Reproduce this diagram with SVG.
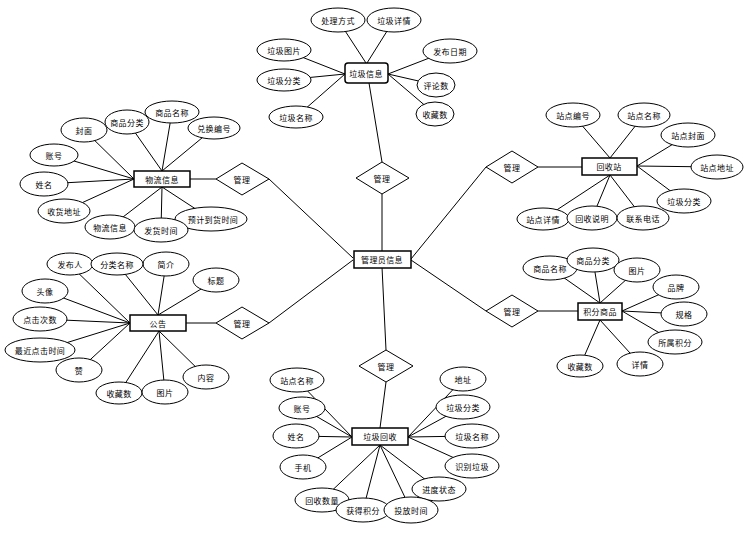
<svg xmlns="http://www.w3.org/2000/svg" width="755" height="542" viewBox="0 0 755 542">
<style>
.c line{stroke:#000;stroke-width:1}
.e ellipse{fill:#fff;stroke:#000;stroke-width:1}
.ent{fill:#fff;stroke:#000;stroke-width:1.5}
.rel{fill:#fff;stroke:#000;stroke-width:1}
text{font-family:"Noto Sans CJK SC","Liberation Sans",sans-serif;font-size:8px;letter-spacing:0.4px;text-anchor:middle;dominant-baseline:central;fill:#000}
</style>
<rect width="755" height="542" fill="#fff"/>
<g id="connectors" class="c">
<line x1="382" y1="251" x2="382" y2="194"/>
<line x1="369" y1="83" x2="382" y2="162"/>
<line x1="353" y1="258" x2="269" y2="179"/>
<line x1="353" y1="260" x2="269" y2="323"/>
<line x1="411" y1="259" x2="486" y2="167"/>
<line x1="411" y1="260" x2="486" y2="311"/>
<line x1="382" y1="267" x2="386" y2="350"/>
<line x1="386" y1="382" x2="380" y2="428"/>
<line x1="190" y1="179" x2="216" y2="179"/>
<line x1="186" y1="323" x2="216" y2="323"/>
<line x1="538" y1="167" x2="582" y2="167"/>
<line x1="538" y1="311" x2="578" y2="311"/>
<line x1="338" y1="20" x2="366" y2="63"/>
<line x1="394" y1="20" x2="367" y2="63"/>
<line x1="284" y1="50" x2="345" y2="74"/>
<line x1="284" y1="80" x2="345" y2="74"/>
<line x1="296" y1="117" x2="345" y2="74"/>
<line x1="450" y1="50" x2="388" y2="74"/>
<line x1="436" y1="85" x2="388" y2="74"/>
<line x1="435" y1="114" x2="388" y2="74"/>
<line x1="84" y1="130" x2="134" y2="179"/>
<line x1="54" y1="155" x2="134" y2="179"/>
<line x1="44" y1="184" x2="134" y2="179"/>
<line x1="64" y1="211" x2="134" y2="179"/>
<line x1="127" y1="121" x2="162" y2="171"/>
<line x1="172" y1="112" x2="162" y2="171"/>
<line x1="214" y1="128" x2="162" y2="171"/>
<line x1="110" y1="227" x2="162" y2="187"/>
<line x1="161" y1="230" x2="162" y2="187"/>
<line x1="211" y1="219" x2="162" y2="187"/>
<line x1="70" y1="265" x2="130" y2="323"/>
<line x1="45" y1="291" x2="130" y2="323"/>
<line x1="40" y1="319" x2="130" y2="323"/>
<line x1="40" y1="351" x2="130" y2="323"/>
<line x1="79" y1="370" x2="130" y2="323"/>
<line x1="117" y1="264" x2="158" y2="315"/>
<line x1="166" y1="264" x2="158" y2="315"/>
<line x1="216" y1="280" x2="158" y2="315"/>
<line x1="119" y1="393" x2="159" y2="331"/>
<line x1="165" y1="392" x2="159" y2="331"/>
<line x1="206" y1="377" x2="159" y2="331"/>
<line x1="573" y1="115" x2="610" y2="158"/>
<line x1="644" y1="115" x2="610" y2="158"/>
<line x1="688" y1="135" x2="637" y2="166"/>
<line x1="717" y1="167" x2="637" y2="166"/>
<line x1="684" y1="201" x2="637" y2="166"/>
<line x1="543" y1="219" x2="610" y2="175"/>
<line x1="592" y1="218" x2="610" y2="175"/>
<line x1="643" y1="218" x2="610" y2="175"/>
<line x1="550" y1="268" x2="600" y2="303"/>
<line x1="593" y1="260" x2="600" y2="303"/>
<line x1="637" y1="270" x2="600" y2="303"/>
<line x1="676" y1="287" x2="622" y2="311"/>
<line x1="684" y1="314" x2="622" y2="311"/>
<line x1="675" y1="342" x2="622" y2="311"/>
<line x1="640" y1="364" x2="600" y2="320"/>
<line x1="580" y1="366" x2="600" y2="320"/>
<line x1="297" y1="380" x2="352" y2="437"/>
<line x1="302" y1="408" x2="352" y2="437"/>
<line x1="296" y1="436" x2="352" y2="437"/>
<line x1="303" y1="467" x2="352" y2="437"/>
<line x1="322" y1="500" x2="380" y2="445"/>
<line x1="363" y1="510" x2="380" y2="445"/>
<line x1="411" y1="510" x2="380" y2="445"/>
<line x1="439" y1="490" x2="380" y2="445"/>
<line x1="463" y1="379" x2="408" y2="437"/>
<line x1="463" y1="407" x2="408" y2="437"/>
<line x1="472" y1="436" x2="408" y2="437"/>
<line x1="472" y1="466" x2="408" y2="437"/>
</g>

<g id="rel-top"><polygon class="rel" points="356,178 382,162 409,178 382,194"/><text x="382" y="178">管理</text></g>
<g id="rel-left1"><polygon class="rel" points="216,179 242,163 269,179 242,195"/><text x="242" y="179">管理</text></g>
<g id="rel-left2"><polygon class="rel" points="216,323 242,307 269,323 242,339"/><text x="242" y="323">管理</text></g>
<g id="rel-right1"><polygon class="rel" points="486,167 512,151 538,167 512,183"/><text x="512" y="167">管理</text></g>
<g id="rel-right2"><polygon class="rel" points="486,311 512,295 538,311 512,327"/><text x="512" y="311">管理</text></g>
<g id="rel-bottom"><polygon class="rel" points="359,366 386,350 413,366 386,382"/><text x="386" y="366">管理</text></g>

<g id="admin"><rect class="ent" x="354" y="251" width="57" height="17"/><text x="382" y="259.5">管理员信息</text></g>
<g id="rubbish-info"><rect class="ent" x="345" y="63" width="43" height="20" rx="3"/><text x="366" y="73">垃圾信息</text></g>
<g id="logistics"><rect class="ent" x="134" y="171" width="56" height="16"/><text x="162" y="179">物流信息</text></g>
<g id="notice"><rect class="ent" x="130" y="315" width="56" height="16"/><text x="158" y="323">公告</text></g>
<g id="station"><rect class="ent" x="582" y="158" width="55" height="17"/><text x="609" y="166.5">回收站</text></g>
<g id="goods"><rect class="ent" x="578" y="303" width="44" height="17"/><text x="600" y="311.5">积分商品</text></g>
<g id="recycle"><rect class="ent" x="352" y="428" width="56" height="17"/><text x="380" y="436.5">垃圾回收</text></g>

<g id="attrs-rubbish-info" class="e">
<g id="a-cl"><ellipse cx="338" cy="20" rx="27" ry="12"/><text x="338" y="20">处理方式</text></g>
<g id="a-xq"><ellipse cx="394" cy="20" rx="27" ry="12"/><text x="394" y="20">垃圾详情</text></g>
<g id="a-tp"><ellipse cx="284" cy="50" rx="27" ry="11"/><text x="284" y="50">垃圾图片</text></g>
<g id="a-fl"><ellipse cx="284" cy="80" rx="27" ry="11"/><text x="284" y="80">垃圾分类</text></g>
<g id="a-mc"><ellipse cx="296" cy="117" rx="27" ry="11"/><text x="296" y="117">垃圾名称</text></g>
<g id="a-rq"><ellipse cx="450" cy="51" rx="27" ry="12"/><text x="450" y="51">发布日期</text></g>
<g id="a-pl"><ellipse cx="436" cy="85" rx="19" ry="12"/><text x="436" y="85">评论数</text></g>
<g id="a-sc"><ellipse cx="435" cy="114" rx="19" ry="12"/><text x="435" y="114">收藏数</text></g>
</g>

<g id="attrs-logistics" class="e">
<g id="b-fm"><ellipse cx="84" cy="130" rx="23" ry="12"/><text x="84" y="130">封面</text></g>
<g id="b-fl"><ellipse cx="127" cy="122" rx="22" ry="12"/><text x="127" y="122">商品分类</text></g>
<g id="b-mc"><ellipse cx="172" cy="112" rx="27" ry="11"/><text x="172" y="112">商品名称</text></g>
<g id="b-dh"><ellipse cx="214" cy="128" rx="26" ry="11"/><text x="214" y="128">兑换编号</text></g>
<g id="b-zh"><ellipse cx="54" cy="155" rx="24" ry="11"/><text x="54" y="155">账号</text></g>
<g id="b-xm"><ellipse cx="44" cy="184" rx="24" ry="12"/><text x="44" y="184">姓名</text></g>
<g id="b-dz"><ellipse cx="64" cy="211" rx="26" ry="12"/><text x="64" y="211">收货地址</text></g>
<g id="b-wl"><ellipse cx="110" cy="227" rx="25" ry="12"/><text x="110" y="227">物流信息</text></g>
<g id="b-yj"><ellipse cx="211" cy="219" rx="36" ry="12"/><text x="213" y="219">预计到货时间</text></g>
<g id="b-fh"><ellipse cx="161" cy="230" rx="27" ry="12"/><text x="161" y="230">发货时间</text></g>
</g>

<g id="attrs-notice" class="e">
<g id="c-fb"><ellipse cx="70" cy="264" rx="23" ry="11"/><text x="70" y="264">发布人</text></g>
<g id="c-jj"><ellipse cx="166" cy="264" rx="23" ry="12"/><text x="166" y="264">简介</text></g>
<g id="c-fl"><ellipse cx="117" cy="264" rx="26" ry="11"/><text x="117" y="264">分类名称</text></g>
<g id="c-bt"><ellipse cx="216" cy="280" rx="23" ry="12"/><text x="216" y="280">标题</text></g>
<g id="c-tx"><ellipse cx="45" cy="291" rx="23" ry="12"/><text x="45" y="291">头像</text></g>
<g id="c-dj"><ellipse cx="40" cy="319" rx="27" ry="12"/><text x="40" y="319">点击次数</text></g>
<g id="c-zan"><ellipse cx="79" cy="370" rx="23" ry="12"/><text x="79" y="370">赞</text></g>
<g id="c-zj"><ellipse cx="40" cy="350" rx="35" ry="12"/><text x="40" y="350">最近点击时间</text></g>
<g id="c-sc"><ellipse cx="119" cy="393" rx="23" ry="11"/><text x="119" y="393">收藏数</text></g>
<g id="c-tp"><ellipse cx="165" cy="392" rx="23" ry="12"/><text x="165" y="392">图片</text></g>
<g id="c-nr"><ellipse cx="206" cy="377" rx="23" ry="12"/><text x="206" y="377">内容</text></g>
</g>

<g id="attrs-station" class="e">
<g id="d-bh"><ellipse cx="573" cy="115" rx="27" ry="12"/><text x="573" y="115">站点编号</text></g>
<g id="d-mc"><ellipse cx="644" cy="115" rx="26" ry="12"/><text x="644" y="115">站点名称</text></g>
<g id="d-fm"><ellipse cx="688" cy="135" rx="27" ry="12"/><text x="688" y="135">站点封面</text></g>
<g id="d-dz"><ellipse cx="717" cy="167" rx="26" ry="12"/><text x="717" y="167">站点地址</text></g>
<g id="d-fl"><ellipse cx="684" cy="201" rx="27" ry="12"/><text x="684" y="201">垃圾分类</text></g>
<g id="d-xq"><ellipse cx="543" cy="219" rx="26" ry="11"/><text x="543" y="219">站点详情</text></g>
<g id="d-sm"><ellipse cx="592" cy="218" rx="25" ry="12"/><text x="592" y="218">回收说明</text></g>
<g id="d-dh"><ellipse cx="643" cy="218" rx="26" ry="12"/><text x="643" y="218">联系电话</text></g>
</g>

<g id="attrs-goods" class="e">
<g id="e-mc"><ellipse cx="550" cy="268" rx="27" ry="12"/><text x="550" y="268">商品名称</text></g>
<g id="e-fl"><ellipse cx="593" cy="260" rx="26" ry="12"/><text x="593" y="260">商品分类</text></g>
<g id="e-tp"><ellipse cx="637" cy="270" rx="23" ry="12"/><text x="637" y="270">图片</text></g>
<g id="e-pp"><ellipse cx="676" cy="287" rx="23" ry="12"/><text x="676" y="287">品牌</text></g>
<g id="e-gg"><ellipse cx="684" cy="314" rx="23" ry="12"/><text x="684" y="314">规格</text></g>
<g id="e-jf"><ellipse cx="675" cy="342" rx="27" ry="12"/><text x="675" y="342">所属积分</text></g>
<g id="e-xq"><ellipse cx="640" cy="364" rx="23" ry="12"/><text x="640" y="364">详情</text></g>
<g id="e-sc"><ellipse cx="580" cy="366" rx="23" ry="11"/><text x="580" y="366">收藏数</text></g>
</g>

<g id="attrs-recycle" class="e">
<g id="f-zd"><ellipse cx="297" cy="380" rx="27" ry="12"/><text x="297" y="380">站点名称</text></g>
<g id="f-zh"><ellipse cx="302" cy="408" rx="23" ry="11"/><text x="302" y="408">账号</text></g>
<g id="f-xm"><ellipse cx="296" cy="436" rx="23" ry="12"/><text x="296" y="436">姓名</text></g>
<g id="f-sj"><ellipse cx="303" cy="467" rx="23" ry="12"/><text x="303" y="467">手机</text></g>
<g id="f-sl"><ellipse cx="322" cy="500" rx="27" ry="12"/><text x="322" y="500">回收数量</text></g>
<g id="f-jf"><ellipse cx="363" cy="510" rx="27" ry="12"/><text x="363" y="510">获得积分</text></g>
<g id="f-zt"><ellipse cx="439" cy="489" rx="27" ry="12"/><text x="439" y="489">进度状态</text></g>
<g id="f-tf"><ellipse cx="411" cy="510" rx="27" ry="13"/><text x="411" y="510">投放时间</text></g>
<g id="f-sb"><ellipse cx="472" cy="466" rx="27" ry="12"/><text x="472" y="466">识别垃圾</text></g>
<g id="f-mc"><ellipse cx="472" cy="436" rx="27" ry="12"/><text x="472" y="436">垃圾名称</text></g>
<g id="f-fl"><ellipse cx="463" cy="407" rx="27" ry="12"/><text x="463" y="407">垃圾分类</text></g>
<g id="f-dz"><ellipse cx="463" cy="379" rx="23" ry="12"/><text x="463" y="379">地址</text></g>
</g>
</svg>
